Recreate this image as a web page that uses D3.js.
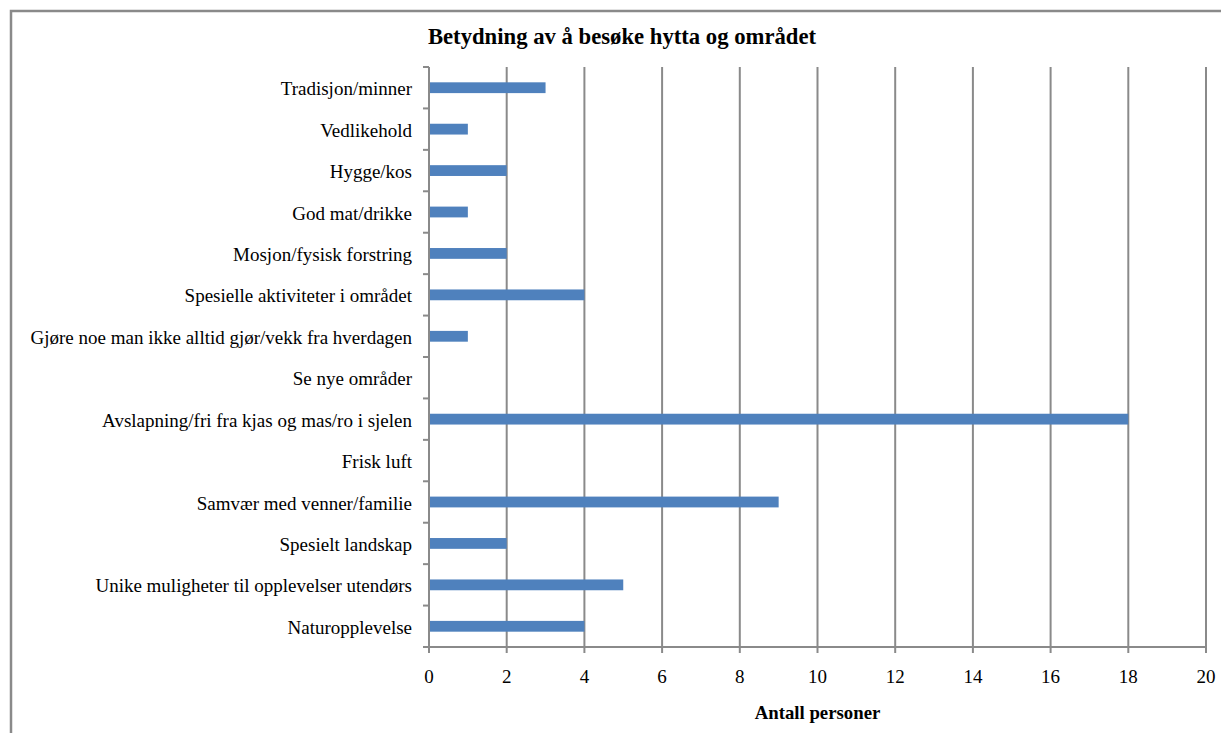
<!DOCTYPE html>
<html>
<head>
<meta charset="utf-8">
<script src="https://cdn.jsdelivr.net/npm/d3@7"></script>
<style>
  body { margin: 0; background: #fff; }
  text { font-family: "Liberation Serif", "Times New Roman", serif; fill: #000; }
</style>
</head>
<body>
<script>
// categories top to bottom, as in the picture
var categories = [
  "Tradisjon/minner",
  "Vedlikehold",
  "Hygge/kos",
  "God mat/drikke",
  "Mosjon/fysisk forstring",
  "Spesielle aktiviteter i området",
  "Gjøre noe man ikke alltid gjør/vekk fra hverdagen",
  "Se nye områder",
  "Avslapning/fri fra kjas og mas/ro i sjelen",
  "Frisk luft",
  "Samvær med venner/familie",
  "Spesielt landskap",
  "Unike muligheter til opplevelser utendørs",
  "Naturopplevelse"
];
var antall = [3, 1, 2, 1, 2, 4, 1, 0, 18, 0, 9, 2, 5, 4];
var xTicks = [0, 2, 4, 6, 8, 10, 12, 14, 16, 18, 20];

var chartTitle = "Betydning av å besøke hytta og området";
var xTitle = "Antall personer";

var margin = {top: 67, right: 15, bottom: 86, left: 429},
    width = 1206 - margin.left,
    height = 647 - margin.top;

var gridColor = "#8a8a8a";

var svg0 = d3.select("body").append("svg")
  .attr("width", 1221)
  .attr("height", 733);

// chart border
svg0.append("rect")
  .attr("x", 11).attr("y", 11)
  .attr("width", 1240).attr("height", 760)
  .attr("fill", "none")
  .attr("stroke", gridColor)
  .attr("stroke-width", 2.5);

svg0.append("text")
  .attr("x", 622).attr("y", 44)
  .attr("text-anchor", "middle")
  .style("font-weight", "bold")
  .style("font-size", "22.7px")
  .text(chartTitle);

var svg = svg0.append("g")
  .attr("transform", "translate(" + margin.left + "," + margin.top + ")");

var data = categories.map(function(c, i) { return {name: c, value: antall[i]}; });

var x = d3.scaleLinear().domain([0, 20]).range([0, width]);
var yb = d3.scaleBand().domain(categories).range([0, height]);

// vertical gridlines
svg.selectAll(".grid")
  .data(xTicks.filter(function(d) { return d > 0; }))
  .enter().append("line")
  .attr("class", "grid")
  .attr("x1", function(d) { return x(d); })
  .attr("x2", function(d) { return x(d); })
  .attr("y1", 0).attr("y2", height)
  .attr("stroke", gridColor)
  .attr("stroke-width", 2);

//creating bars
svg.selectAll(".bar")
  .data(data)
  .enter().append("rect")
  .attr("class", "bar")
  .style("fill", "#4f81bd")
  .attr("x", x(0))
  .attr("y", function(d) { return yb(d.name) + yb.bandwidth() / 2 - 5.4; })
  .attr("width", function(d) { return x(d.value) - x(0); })
  .attr("height", 10.8);

// y axis line and ticks at band edges
svg.append("line")
  .attr("x1", 0).attr("x2", 0)
  .attr("y1", 0).attr("y2", height + 6)
  .attr("stroke", gridColor).attr("stroke-width", 2);

var edges = categories.map(function(c) { return yb(c); }).concat([height]);
svg.selectAll(".ytick")
  .data(edges)
  .enter().append("line")
  .attr("x1", -6).attr("x2", 0)
  .attr("y1", function(d) { return d; })
  .attr("y2", function(d) { return d; })
  .attr("stroke", gridColor).attr("stroke-width", 2);

svg.selectAll(".ylab")
  .data(data)
  .enter().append("text")
  .attr("x", -17)
  .attr("y", function(d) { return yb(d.name) + yb.bandwidth() / 2 + 7.5; })
  .attr("text-anchor", "end")
  .style("font-size", "19px")
  .text(function(d) { return d.name; });

// x axis
svg.append("line")
  .attr("x1", -6).attr("x2", width)
  .attr("y1", height).attr("y2", height)
  .attr("stroke", gridColor).attr("stroke-width", 2);

svg.selectAll(".xtick")
  .data(xTicks)
  .enter().append("line")
  .attr("x1", function(d) { return x(d); })
  .attr("x2", function(d) { return x(d); })
  .attr("y1", height).attr("y2", height + 6)
  .attr("stroke", gridColor).attr("stroke-width", 2);

svg.selectAll(".xlab")
  .data(xTicks)
  .enter().append("text")
  .attr("x", function(d) { return x(d); })
  .attr("y", height + 36)
  .attr("text-anchor", "middle")
  .style("font-size", "19px")
  .text(function(d) { return d; });

svg.append("text")
  .attr("x", width / 2)
  .attr("y", height + 72)
  .attr("text-anchor", "middle")
  .style("font-weight", "bold")
  .style("font-size", "18.8px")
  .text(xTitle);
</script>
</body>
</html>
